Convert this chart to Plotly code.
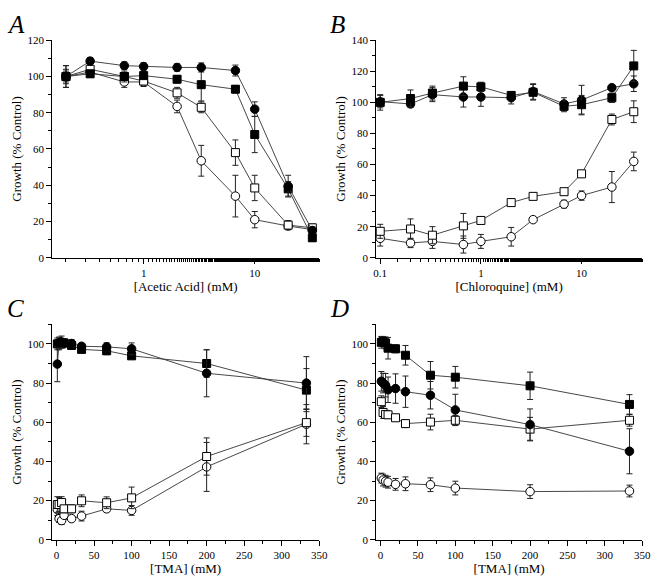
import plotly.graph_objects as go
import numpy as np

# ---------------- data ----------------
# Panel A: acetic acid
a_x = [0.2, 0.33, 0.67, 1, 2, 3.3, 6.7, 10, 20, 33]
a_fc = [100, 108.5, 106, 105.5, 105, 105, 103.3, 82, 39.5, 15]
a_fc_e = [4, 2, 2, 2, 2, 2.5, 3, 4, 6, 2]
a_fs = [100, 101.5, 100, 100.5, 98.5, 95.5, 93, 68, 38, 11]
a_fs_e = [6, 2, 2, 2, 2, 9, 2, 10, 4, 2]
a_os = [100, 104, 100, 97.5, 91, 83, 58, 38.5, 18, 16.5]
a_os_e = [6, 2, 3, 2, 3, 3, 7, 7, 2.5, 2]
a_oc = [100, 102.5, 97, 97, 83.5, 53.5, 34, 21, 17.5, 15.5]
a_oc_e = [3, 2, 3, 2.5, 3.5, 8.5, 11.5, 4.5, 2, 2]

# Panel B: chloroquine
b_x = [0.1, 0.2, 0.33, 0.67, 1, 2, 3.3, 6.7, 10, 20, 33]
b_fs = [100, 102.5, 106, 110.5, 110, 104.5, 106.5, 97.5, 98.5, 103, 123.5]
b_fs_e = [5, 5.5, 4.5, 6, 3, 2.5, 5, 3.5, 6, 3, 10]
b_fc = [100.5, 99, 105, 103.5, 103.5, 103, 107, 99, 101.5, 109.5, 112]
b_fc_e = [4, 2, 4.5, 6.5, 6, 4, 5, 4, 9.5, 1.5, 5]
b_os = [17, 18.5, 14.5, 20.5, 24, 35.5, 39.5, 42.5, 54, 89, 94]
b_os_e = [4.5, 6.5, 5.5, 8, 1.5, 2, 2, 1.5, 1.5, 3.5, 7]
b_oc = [12.5, 9.5, 10.5, 8.5, 10.5, 13.5, 24.5, 34.5, 40, 45.5, 62]
b_oc_e = [5, 3, 4.5, 5.5, 4.5, 6, 1.5, 2.5, 3, 10, 6]

# Panel C: TMA
c_x = [1, 3.33, 6.67, 10, 20, 33.3, 66.7, 100, 200, 333]
c_fc = [89.7, 100.5, 101, 100.5, 100.2, 98.8, 98.5, 97.5, 85, 80]
c_fc_e = [9, 3, 3, 2, 2, 1.5, 2, 3, 12, 13.5]
c_fs = [100, 100, 100, 100.5, 99.2, 97.2, 96.5, 93.9, 90, 76.4]
c_fs_e = [3, 3, 2, 2, 1.5, 1.5, 2, 1, 7, 11]
c_os = [18, 18, 19, 15.8, 15.8, 19.9, 18.9, 21.4, 42.5, 59.8]
c_os_e = [4, 3.5, 3, 2, 2, 3, 3, 5.5, 9.5, 7]
c_oc = [15.4, 10.8, 9.8, 12.5, 10.8, 12.1, 15.8, 15, 37.2, 59]
c_oc_e = [3, 2, 2, 2, 1.5, 2.5, 1.5, 2.5, 12.5, 10]

# Panel D: TMA
d_x = [1, 3.33, 6.67, 10, 20, 33.3, 66.7, 100, 200, 333]
d_fs = [100.8, 101.3, 100.5, 97.8, 97.5, 94.2, 84, 83, 78.6, 69.1]
d_fs_e = [3, 2.5, 3, 5.5, 2, 5, 7, 5.5, 7, 5]
d_fc = [80.9, 80, 78.9, 76.6, 77.2, 75.6, 73.8, 66.3, 58.8, 45.2]
d_fc_e = [5, 5, 6, 6.5, 7.5, 8, 7, 8, 8, 11.5]
d_os = [70.5, 65, 64, 63.8, 62.3, 59.3, 60.1, 61, 56.5, 61]
d_os_e = [3, 3, 2, 1.5, 1.5, 2, 4, 2.5, 6, 3]
d_oc = [31.5, 30.5, 29.9, 29.4, 28.3, 28.6, 28.1, 26.4, 24.6, 24.9]
d_oc_e = [2.5, 3, 3, 3, 3, 3.5, 3.5, 3.5, 3.5, 3]

FONT = "Liberation Serif, Times New Roman, serif"
W, H = 661, 583

fig = go.Figure()

STYLES = {
    "fc": dict(symbol="circle", color="black"),
    "fs": dict(symbol="square", color="black"),
    "os": dict(symbol="square", color="white"),
    "oc": dict(symbol="circle", color="white"),
}

def add(ax, x, y, e, kind):
    st = STYLES[kind]
    fig.add_trace(go.Scatter(
        x=x, y=y, mode="lines+markers",
        xaxis="x" + ax, yaxis="y" + ax,
        line=dict(color="#333333", width=0.9),
        marker=dict(symbol=st["symbol"], size=8.5 if kind.endswith("c") else 8,
                    color=st["color"], line=dict(color="black", width=1)),
        error_y=dict(type="data", array=e, visible=True, color="#222222",
                     thickness=1, width=3),
        showlegend=False, cliponaxis=False, hoverinfo="skip",
    ))

add("", a_x, a_oc, a_oc_e, "oc")
add("", a_x, a_os, a_os_e, "os")
add("", a_x, a_fs, a_fs_e, "fs")
add("", a_x, a_fc, a_fc_e, "fc")

add("2", b_x, b_oc, b_oc_e, "oc")
add("2", b_x, b_os, b_os_e, "os")
add("2", b_x, b_fc, b_fc_e, "fc")
add("2", b_x, b_fs, b_fs_e, "fs")

add("3", c_x, c_oc, c_oc_e, "oc")
add("3", c_x, c_os, c_os_e, "os")
add("3", c_x, c_fs, c_fs_e, "fs")
add("3", c_x, c_fc, c_fc_e, "fc")

add("4", d_x, d_oc, d_oc_e, "oc")
add("4", d_x, d_os, d_os_e, "os")
add("4", d_x, d_fc, d_fc_e, "fc")
add("4", d_x, d_fs, d_fs_e, "fs")

def px_x(p):
    return p / W

def px_y(p):
    return 1 - p / H

tickfont = dict(family=FONT, size=11, color="black")
titlefont = dict(family=FONT, size=13, color="black")

def xaxis(dom, anchor, title, log=False, rng=None):
    d = dict(domain=dom, anchor=anchor, showgrid=False, zeroline=False,
             showline=True, linecolor="black", linewidth=1,
             ticks="outside", ticklen=5, tickwidth=1, tickcolor="black",
             tickfont=tickfont,
             title=dict(text=title, font=titlefont, standoff=0),
             range=rng)
    if log:
        d.update(type="log", tickvals=[0.1, 1, 10], ticktext=["0.1", "1", "10"],
                 minor=dict(ticks="outside", ticklen=3, tickcolor="black",
                            tickwidth=1, showgrid=False))
    else:
        d.update(dtick=50, tick0=0,
                 minor=dict(ticks="outside", ticklen=3, dtick=25,
                            tickcolor="black", tickwidth=1, showgrid=False))
    return d

def yaxis(dom, anchor, rng):
    return dict(domain=dom, anchor=anchor, showgrid=False, zeroline=False,
                showline=True, linecolor="black", linewidth=1,
                ticks="outside", ticklen=5, tickwidth=1, tickcolor="black",
                tickfont=tickfont, range=rng, dtick=20, tick0=0,
                minor=dict(ticks="outside", ticklen=3, dtick=10,
                           tickcolor="black", tickwidth=1, showgrid=False),
                title=dict(text="Growth (% Control)", font=titlefont, standoff=2))

xA = [px_x(50), px_x(322)]
xB = [px_x(380), px_x(651)]
yTop = [px_y(257), px_y(35)]
yBot = [px_y(545), px_y(325)]

fig.update_layout(
    width=W, height=H,
    margin=dict(l=0, r=0, t=0, b=0),
    paper_bgcolor="white", plot_bgcolor="white",
    xaxis=xaxis(xA, "y", "[Acetic Acid] (mM)", log=True,
                rng=[np.log10(0.15), np.log10(38)]),
    yaxis=yaxis(yTop, "x", [0, 120]),
    xaxis2=xaxis(xB, "y2", "[Chloroquine] (mM)", log=True,
                 rng=[np.log10(0.091), np.log10(40)]),
    yaxis2=yaxis(yTop, "x2", [0, 140]),
    xaxis3=xaxis(xA, "y3", "[TMA] (mM)", rng=[-6, 350]),
    yaxis3=yaxis(yBot, "x3", [0, 110]),
    xaxis4=xaxis(xB, "y4", "[TMA] (mM)", rng=[-6, 350]),
    yaxis4=yaxis(yBot, "x4", [0, 110]),
)

for letter, xp, yp in [("A", 2, 3), ("B", 331, 3), ("C", 2, 293), ("D", 331, 293)]:
    fig.add_annotation(text="<i>" + letter + "</i>", xref="paper", yref="paper",
                       x=px_x(xp), y=px_y(yp), xanchor="left", yanchor="top",
                       showarrow=False,
                       font=dict(family=FONT, size=25, color="black"))

fig.write_html("out.html", config={"displayModeBar": False},
               post_script="document.body.style.margin='0';")
